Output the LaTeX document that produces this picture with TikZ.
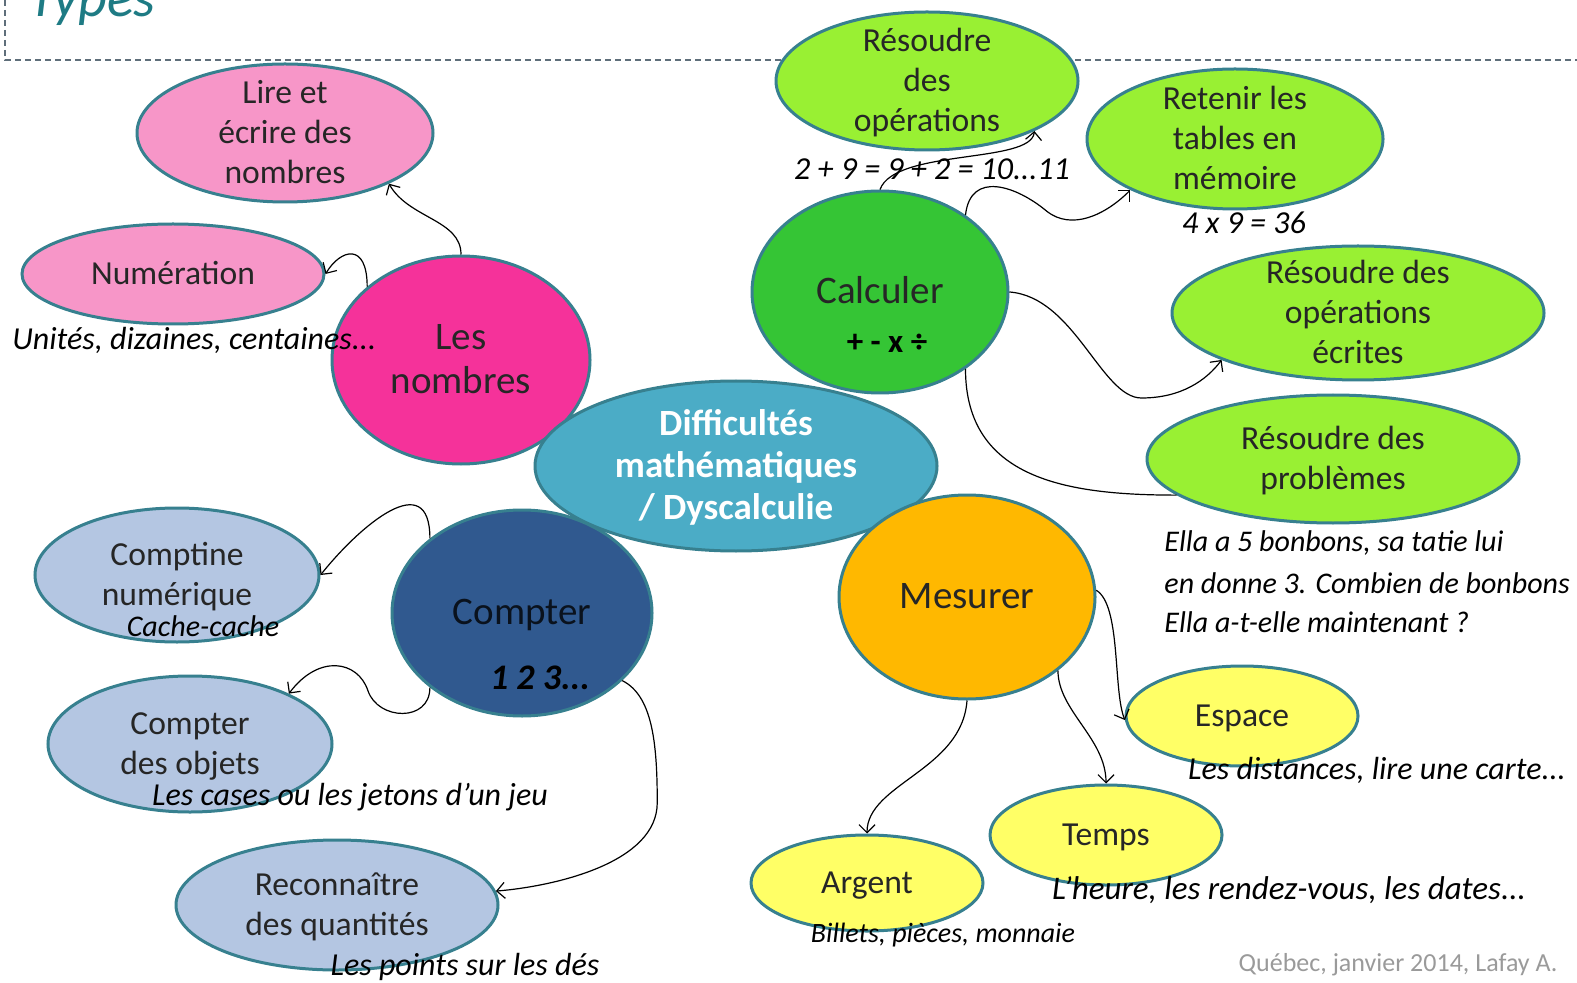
\documentclass[tikz,border=0pt]{standalone}
\usepackage{fontspec}
\setmainfont{Carlito}
\usepackage{xcolor}
\usetikzlibrary{arrows.meta,positioning,shapes.geometric}

\definecolor{edgeteal}{HTML}{37808F}
\definecolor{framegray}{HTML}{5F6E7A}
\definecolor{typeteal}{HTML}{1E7B84}
\definecolor{inktext}{HTML}{262626}
\definecolor{pinkpale}{HTML}{F796C8}
\definecolor{pinkhot}{HTML}{F5329A}
\definecolor{hubblue}{HTML}{4BACC6}
\definecolor{greendark}{HTML}{35C535}
\definecolor{greenlight}{HTML}{99F033}
\definecolor{orangemes}{HTML}{FFB800}
\definecolor{yellowpale}{HTML}{FFFF66}
\definecolor{navycount}{HTML}{30598F}
\definecolor{bluepale}{HTML}{B4C6E2}
\definecolor{creditgray}{HTML}{9A9A9A}

% text centred in an oval without growing it
\newcommand{\ovaltext}[1]{\raisebox{-0.33em}[0pt][0pt]{\makebox[0pt]{\begin{tabular}{@{}c@{}}#1\end{tabular}}}}

\begin{document}
\begin{tikzpicture}[
    x=0.5pt, y=-0.5pt,
    bubble/.style={ellipse, draw=edgeteal, line width=1.5pt, inner sep=0pt, text=inktext,
                   font=\fontsize{16.8}{20}\selectfont},
    bigbubble/.style={bubble, font=\fontsize{19.5}{22}\selectfont},
    note/.style={inner sep=0pt, text=black, font=\fontsize{16}{18}\selectfont\itshape},
    smallnote/.style={note, font=\fontsize{15}{18}\selectfont\itshape},
    mathnote/.style={note, font=\fontsize{16}{18}\selectfont\itshape},
    link/.style={-{Straight Barb[length=4pt,width=8pt]}, line width=0.6pt},
    plainlink/.style={line width=0.6pt},
]
\useasboundingbox (0,0) rectangle (1577,983);
\clip (0,0) rectangle (1577,983);

% ---------- Title strip ----------
\node[anchor=base west, inner sep=0pt, text=typeteal, font=\fontsize{28}{30}\selectfont\itshape] (types) at (28,17) {Types};
\draw[draw=framegray, line width=0.8pt, dash pattern=on 3pt off 2pt] (5,0) -- (5,60) -- (1577,60);

% ---------- Les nombres ----------
\node[bubble, fill=pinkpale, minimum width=148pt, minimum height=69pt] (lire) at (285,133) {\ovaltext{Lire et\\écrire des\\nombres}};
\node[bubble, fill=pinkpale, minimum width=151pt, minimum height=50pt] (numer) at (173,274) {\ovaltext{Numération}};
\node[bigbubble, fill=pinkhot, minimum width=129pt, minimum height=104pt] (nombres) at (461,360) {\ovaltext{Les\\nombres}};

% ---------- Compter ----------
\node[bigbubble, fill=navycount, text=black!80!navycount, minimum width=130pt, minimum height=103pt] (compter) at (522,613) {\ovaltext{Compter}};
\node[bubble, fill=bluepale, minimum width=142pt, minimum height=67pt] (comptine) at (177,575) {\ovaltext{Comptine\\numérique}};
\node[bubble, fill=bluepale, minimum width=142pt, minimum height=68pt] (objets) at (190,744) {\ovaltext{Compter\\des objets}};
\node[bubble, fill=bluepale, minimum width=161pt, minimum height=65pt] (quant) at (337,905) {\ovaltext{Reconnaître\\des quantités}};

% ---------- Centre ----------
\node[bubble, fill=hubblue, text=white, minimum width=201pt, minimum height=85pt,
      font=\fontsize{18.5}{21}\selectfont\bfseries] (hub) at (736,466) {\ovaltext{Difficultés\\mathématiques\\/ Dyscalculie}};

% ---------- Calculer ----------
\node[bigbubble, fill=greendark, minimum width=128pt, minimum height=101pt] (calc) at (880,292) {\ovaltext{Calculer}};
\node[bubble, fill=greenlight, minimum width=151pt, minimum height=69pt] (resop) at (927,81) {\ovaltext{Résoudre\\des\\opérations}};
\node[bubble, fill=greenlight, minimum width=148pt, minimum height=70pt] (tables) at (1235,139) {\ovaltext{Retenir les\\tables en\\mémoire}};
\node[bubble, fill=greenlight, minimum width=186pt, minimum height=67pt] (ecrites) at (1358,313) {\ovaltext{Résoudre des\\opérations\\écrites}};
\node[bubble, fill=greenlight, minimum width=186pt, minimum height=64pt] (problemes) at (1333,459) {\ovaltext{Résoudre des\\problèmes}};

% ---------- Mesurer ----------
\node[bigbubble, fill=orangemes, minimum width=128pt, minimum height=102pt] (mesurer) at (967,597) {\ovaltext{Mesurer}};
\node[bubble, fill=yellowpale, minimum width=116pt, minimum height=50pt] (espace) at (1242,716) {\ovaltext{Espace}};
\node[bubble, fill=yellowpale, minimum width=116pt, minimum height=50pt] (temps) at (1106,835) {\ovaltext{Temps}};
\node[bubble, fill=yellowpale, minimum width=116pt, minimum height=48pt] (argent) at (867,883) {\ovaltext{Argent}};

% ---------- Handwritten examples ----------
\node[note, anchor=west] (units) at (12,340) {Unités, dizaines, centaines...};
\node[smallnote] (cache) at (203,626) {Cache-cache};
\node[note] (cases) at (350,797) {Les cases ou les jetons d'un jeu};
\node[note] (points) at (465,967) {Les points sur les dés};
\node[mathnote, font=\fontsize{18}{20}\selectfont\bfseries\itshape] (countsym) at (540,678) {1 2 3...};
\node[mathnote, font=\fontsize{16.5}{18}\selectfont\bfseries] (calcsym) at (887,343) {+ - x ÷};
\node[mathnote] (eqadd) at (932,169) {2 + 9 = 9 + 2 = 10...11};
\node[mathnote] (eqmul) at (1244,223) {4 x 9 = 36};
\node[smallnote, anchor=west] (ella1) at (1164,543) {Ella a 5 bonbons, sa tatie lui};
\node[smallnote, anchor=west] (ella2) at (1164,583) {en donne 3. Combien de bonbons};
\node[smallnote, anchor=west] (ella3) at (1164,622) {Ella a-t-elle maintenant ?};
\node[note] (distances) at (1377,770) {Les distances, lire une carte...};
\node[note, font=\fontsize{16.5}{18}\selectfont\itshape] (heure) at (1289,890) {L'heure, les rendez-vous, les dates...};
\node[note, font=\fontsize{14}{16}\selectfont\itshape] (billets) at (943,935) {Billets, pièces, monnaie};
\node[inner sep=0pt, text=creditgray, font=\fontsize{13}{15}\selectfont] (credit) at (1398,965) {Québec, janvier 2014, Lafay A.};

% ---------- Links: nombres ----------
\draw[link] (nombres.north) .. controls +(0,-35) and +(20,35) .. (lire.-26);
\draw[link] (nombres.142) .. controls +(0,-45) and +(15,-25) .. (numer.east);

% ---------- Links: compter ----------
\draw[link] (compter.141) .. controls +(0,-72) and +(40,-50) .. (comptine.east);
\draw[link] (compter.219) .. controls +(0,35) and +(10,30) .. ++(-62,3)
    .. controls +(-10,-30) and +(30,-40) .. (objets.27);
\draw[link] (compter.-34) .. controls +(30,15) and +(0,-60) .. ++(35,122)
    .. controls +(0,60) and +(60,-5) .. (quant.5);

% ---------- Links: calculer ----------
\draw[link] (calc.north) .. controls +(15,-41) and +(-3,33) .. (resop.-25);
\draw[link] (calc.42) .. controls +(5,-45) and +(-30,-25) .. ++(81,-4)
    .. controls +(25,20) and +(-25,25) .. (tables.206);
\draw[link] (calc.east) .. controls +(65,5) and +(-40,0) .. ++(132,106)
    .. controls +(40,0) and +(-15,20) .. (ecrites.199);
\draw[plainlink] (calc.-42) .. controls +(0,110) and +(-110,0) .. (problemes.193);

% ---------- Links: mesurer ----------
\draw[link] (mesurer.3) .. controls +(25,15) and +(-12,-30) .. (espace.182);
\draw[link] (mesurer.-39) .. controls +(0,40) and +(0,-45) .. (temps.north);
\draw[link] (mesurer.south) .. controls +(-5,70) and +(0,-50) .. (argent.north);

\end{tikzpicture}
\end{document}
